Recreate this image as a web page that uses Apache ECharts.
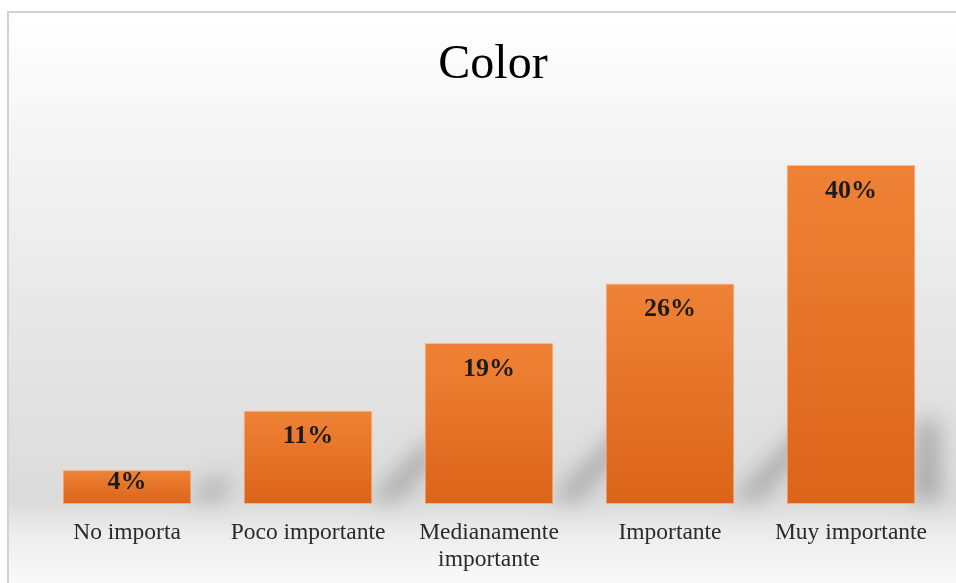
<!DOCTYPE html>
<html>
<head>
<meta charset="utf-8">
<script src="https://cdn.jsdelivr.net/npm/echarts@6/dist/echarts.min.js"></script>
<style>
  html, body { margin: 0; padding: 0; background: #ffffff; }
  #chart { width: 956px; height: 583px; }
</style>
</head>
<body>
<div id="chart"></div>
<script>
// Survey answers about the importance of colour
const categories = ['No importa', 'Poco importante', 'Medianamente\nimportante', 'Importante', 'Muy importante'];
const percentages = [4, 11, 19, 26, 40];

const SERIF = '"Liberation Serif", "Times New Roman", serif';
const WALL_RIGHT = 942;
const FAR = 3000; // the shape sits off-canvas, only its blurred shadow lands next to the bar

const chart = echarts.init(document.getElementById('chart'), null, { renderer: 'canvas' });

// Soft perspective shadow cast to the right of each bar
function renderShadow(params, api) {
  const idx = api.value(0);
  const val = api.value(1);
  const top = api.coord([idx, val]);
  const base = api.coord([idx, 0]);
  const band = api.size([1, 0])[0];
  const xR = top[0] + band * 0.71 / 2;
  const barH = base[1] - top[1];
  const h = Math.min(barH * 0.6, 80);
  const s = h * 0.95;
  const w = 24;
  const y0 = base[1] - 4;
  const pts = [
    [xR - 2, y0],
    [xR + w, y0],
    [Math.min(xR + w + s, WALL_RIGHT - 4), y0 - h],
    [Math.min(xR + s, WALL_RIGHT - w), y0 - h]
  ].map(p => [p[0] - FAR, p[1]]);
  return {
    type: 'polygon',
    shape: { points: pts },
    style: {
      fill: '#000000',
      shadowBlur: 22,
      shadowOffsetX: FAR,
      shadowColor: 'rgba(0,0,0,0.25)'
    }
  };
}

const option = {
  animation: false,
  graphic: [
    {
      type: 'rect',
      z: -10,
      silent: true,
      shape: { x: 9, y: 13, width: 960, height: 580 },
      style: {
        fill: new echarts.graphic.LinearGradient(0, 0, 0, 1, [
          { offset: 0, color: '#ffffff' },
          { offset: 0.25, color: '#f3f3f3' },
          { offset: 0.55, color: '#e6e6e6' },
          { offset: 0.84, color: '#dbdbdb' },
          { offset: 0.865, color: '#e2e2e2' },
          { offset: 0.9, color: '#ededed' },
          { offset: 1, color: '#fcfcfc' }
        ])
      }
    },
    {
      type: 'rect',
      z: -9,
      silent: true,
      shape: { x: 8, y: 12, width: 1000, height: 1000 },
      style: { fill: 'none', stroke: '#d2d2d2', lineWidth: 2 }
    }
  ],
  title: {
    text: 'Color',
    left: 488,
    textAlign: 'center',
    top: 36,
    textStyle: {
      fontFamily: SERIF,
      fontSize: 48,
      fontWeight: 'normal',
      color: '#000000'
    }
  },
  grid: {
    left: 36.5,
    right: 14.5,
    top: 122.625,
    bottom: 79,
    containLabel: false
  },
  xAxis: {
    type: 'category',
    data: categories,
    axisLine: { show: false },
    axisTick: { show: false },
    axisLabel: {
      interval: 0,
      margin: 15,
      fontFamily: SERIF,
      fontSize: 23.5,
      lineHeight: 27,
      color: '#2a2a2a'
    }
  },
  yAxis: {
    type: 'value',
    min: 0,
    max: 45,
    show: false,
    splitLine: { show: false }
  },
  series: [
    {
      type: 'custom',
      renderItem: renderShadow,
      data: percentages.map((v, i) => [i, v]),
      clip: false,
      z: 1,
      silent: true
    },
    {
      type: 'bar',
      data: percentages.map(v => ({
        value: v,
        label: v < 6 ? { distance: -1 } : undefined
      })),
      barCategoryGap: '29%',
      z: 2,
      itemStyle: {
        color: new echarts.graphic.LinearGradient(0, 0, 0, 1, [
          { offset: 0, color: '#ef8236' },
          { offset: 1, color: '#db6419' }
        ]),
        borderColor: 'rgba(255,190,140,0.6)',
        borderWidth: 1
      },
      label: {
        show: true,
        position: 'insideTop',
        distance: 13,
        formatter: '{c}%',
        fontFamily: SERIF,
        fontSize: 26,
        fontWeight: 'bold',
        color: '#1c1c1c'
      }
    }
  ]
};

chart.setOption(option);
</script>
</body>
</html>
